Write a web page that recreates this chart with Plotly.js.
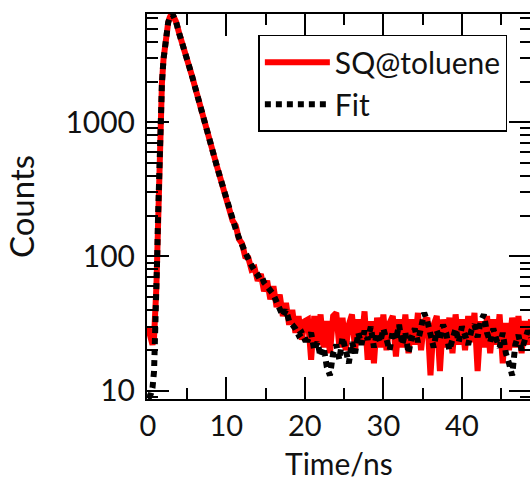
<!DOCTYPE html>
<html><head><meta charset="utf-8">
<script src="https://cdn.plot.ly/plotly-3.0.1.min.js"></script>
<style>html,body{margin:0;padding:0;overflow:hidden;background:#fff}</style>
</head><body><div id="chart" style="width:533px;height:482px"></div>
<script>
const time = [0,0.2,0.4,0.6,0.8,0.9,1.0,1.1,1.2,1.3,1.4,1.5,1.6,1.8,2.0,2.2,2.4,2.6,2.8,3.0,3.2,
 3.6,4.0,4.4,4.8,5.2,5.6,6.0,6.4,6.8,7.2,7.6,8.0,8.4,8.8,9.2,9.6,10.0,10.4,10.8,11.2,11.6,12.0,12.4,12.8,13.2,13.6,14.0,14.4,14.8,15.2,15.6,16.0,16.4,16.8,17.2,17.6,18.0,18.4,18.8,19.2,19.6,20.0,
 20.4,20.8,21.2,21.6,22.0,22.4,22.8,23.2,23.6,24.0,24.4,24.8,25.2,25.6,26.0,26.4,26.8,27.2,27.6,28.0,28.4,28.8,29.2,29.6,30.0,30.4,30.8,31.2,31.6,32.0,32.4,32.8,33.2,33.6,34.0,34.4,34.8,35.2,35.6,36.0,36.4,36.8,37.2,37.6,38.0,38.4,38.8,39.2,39.6,40.0,40.4,40.8,41.2,41.6,42.0,42.4,42.8,43.2,43.6,44.0,44.4,44.8,45.2,45.6,46.0,46.4,46.8,47.2,47.6,48.0,48.4,48.8];

const counts = [30,27,24,22,25,30,38,60,100,190,370,640,1000,1950,2950,3950,4850,5550,6050,6400,6300,
 5600,4600,3900,3300,2750,2250,1850,1500,1230,1000,830,690,575,470,390,325,270,235,185,170,135,125,100,98,80,82,66,74,55,66,48,60,42,52,36,45,31,40,27,36,24,33,
 34,17,36,22,37,21,33,19,36,38, 21,35,20,31,37,20,34,22,39,17, 33,16,35,21,37,20,32,36,18,34,
 21,37,19,34,22,38,20,33,35,13, 31,36,14,34,21,35,19,37,22,34, 20,36,23,38,14,33,21,36,19,34,
 22,37,16,32,20,35,21,36,19,33, 22,34];

const fit = [9,9,9.5,10.5,14,20,34,58,100,190,370,640,1000,1950,2950,3950,4850,5550,6050,6400,6300,
 5600,4600,3900,3300,2750,2250,1850,1500,1230,1000,830,690,570,470,390,322,268,226,192,160,138,120,104,96,86,80,72,74,64,60,56,52,46,40,36,40,33,31,29,26,27,24,
 24,27,20,23,18,21,15,13,19,22, 17,25,20,16,23,19,27,22,28,24, 30,21,27,23,29,25,20,28,24,31,
 22,27,19,25,29,23,30,38,33,26, 21,28,24,31,27,20,25,29,23,30, 26,22,28,31,25,33,37,27,23,29,
 24,21,27,19,16,13,22,26,20,24, 28,25];

const seriesNames = ['SQ@toluene', 'Fit'];
const xTitle = 'Time/ns';
const yTitle = 'Counts';
const xTickVals = [0,10,20,30,40];
const xMinorVals = [5,15,25,35,45];
const yTickVals = [10,100,1000];
const yTickText = ['10','100','1000'];
const yMinorVals = [9,20,30,40,50,60,70,80,90,200,300,400,500,600,700,800,900,2000,3000,4000,5000,6000];

const font = 'Lato, sans-serif';
const traces = [
  {x: time, y: counts, name: seriesNames[0], type: 'scatter', mode: 'lines',
   line: {color: '#ff0000', width: 6}},
  {x: time, y: fit, name: seriesNames[1], type: 'scatter', mode: 'lines',
   line: {color: '#000000', width: 6, dash: '6px,5px'}}
];
const axisCommon = {showline: true, linecolor: '#000', linewidth: 2, mirror: 'ticks',
  ticks: 'inside', ticklen: 22, tickwidth: 2, tickcolor: '#000', showgrid: false, zeroline: false};
const layout = {
  width: 533, height: 482,
  margin: {l: 147, r: 2, t: 14, b: 83},
  paper_bgcolor: '#fff', plot_bgcolor: '#fff',
  showlegend: true,
  legend: {x: 0.29, y: 0.946, xanchor: 'left', yanchor: 'top', bgcolor: '#fff',
    bordercolor: '#000', borderwidth: 1.5, font: {family: font, size: 30, color: '#111'},
    itemwidth: 65, tracegroupgap: 0},
  xaxis: Object.assign({}, axisCommon, {range: [-0.1, 48.8], tickmode: 'array', tickvals: xTickVals,
    ticklabelstandoff: 0, tickfont: {family: font, size: 29, color: '#111'},
    minor: {tickmode: 'array', tickvals: xMinorVals, ticks: 'inside', ticklen: 11, tickwidth: 2, tickcolor: '#000'}}),
  yaxis: Object.assign({}, axisCommon, {type: 'log', range: [0.938, 3.807], tickmode: 'array',
    tickvals: yTickVals, ticktext: yTickText, ticklabelstandoff: 4,
    tickfont: {family: font, size: 30, color: '#111'},
    minor: {tickmode: 'array', tickvals: yMinorVals, ticks: 'inside', ticklen: 11, tickwidth: 2, tickcolor: '#000'},
    title: {text: yTitle, font: {family: font, size: 33, color: '#111'}, standoff: 21}}),
  annotations: [{text: xTitle, xref: 'paper', yref: 'paper', x: 0.5, y: -0.2155,
    xanchor: 'center', yanchor: 'bottom', showarrow: false, borderpad: 0,
    font: {family: font, size: 30, color: '#111'}}]
};
Plotly.newPlot('chart', traces, layout, {displayModeBar: false, staticPlot: true});
</script></body></html>
